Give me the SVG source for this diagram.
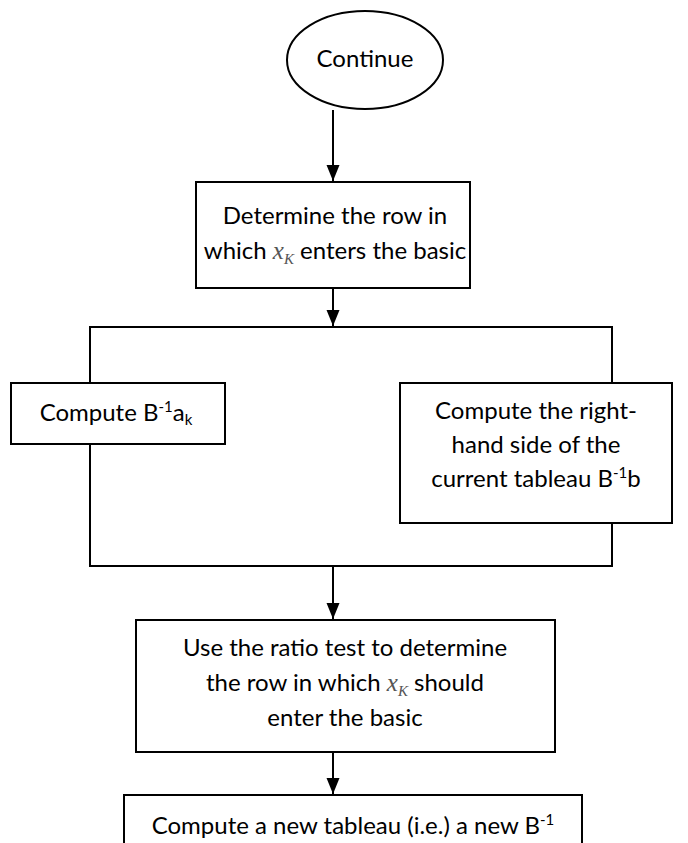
<svg xmlns="http://www.w3.org/2000/svg" width="688" height="843" viewBox="0 0 688 843">
<style>
.s{fill:#fff;stroke:#000;stroke-width:2}
.ln{fill:none;stroke:#000;stroke-width:2}
.t{font-family:Lato,"Liberation Sans",sans-serif;font-size:24px;fill:#000;text-anchor:middle}
.m{font-family:"Liberation Serif",serif;font-style:italic;fill:#555}
</style>
<defs>
<marker id="ah2" markerWidth="16" markerHeight="16" refX="16" refY="8" orient="auto" markerUnits="userSpaceOnUse" viewBox="0 0 16 16">
<path d="M0,1.5 L16,8 L0,14.5 z" fill="#000"/>
</marker>
</defs>
<g id="connectors">
<line class="ln" x1="333" y1="110" x2="333" y2="181" marker-end="url(#ah2)"/>
<line class="ln" x1="333" y1="288" x2="333" y2="326" marker-end="url(#ah2)"/>
<polyline class="ln" points="90,566 90,327 612,327 612,566"/>
<line class="ln" x1="89" y1="566" x2="613" y2="566"/>
<line class="ln" x1="333" y1="566" x2="333" y2="619" marker-end="url(#ah2)"/>
<line class="ln" x1="333" y1="752" x2="333" y2="794" marker-end="url(#ah2)"/>
</g>
<g id="n_continue">
<ellipse class="s" cx="365" cy="60" rx="78" ry="49"/>
<text class="t" x="365" y="67">Continue</text>
</g>
<g id="n_determine">
<rect class="s" x="196" y="182" width="274" height="106"/>
<text class="t" x="335" y="224">Determine the row in</text>
<text class="t" x="335" y="259">which <tspan class="m" font-size="25">x</tspan><tspan class="m" font-size="15" dy="5">K</tspan><tspan dy="-5"> enters the basic</tspan></text>
</g>
<g id="n_compute_ak">
<rect class="s" x="11" y="383" width="214" height="61"/>
<text class="t" x="116" y="421">Compute B<tspan font-size="15" dy="-9">-1</tspan><tspan dy="9">a</tspan><tspan font-size="15" dy="4">k</tspan></text>
</g>
<g id="n_compute_rhs">
<rect class="s" x="400" y="383" width="272" height="140"/>
<text class="t" x="536" y="419">Compute the right-</text>
<text class="t" x="536" y="453">hand side of the</text>
<text class="t" x="536" y="487">current tableau B<tspan font-size="15" dy="-9">-1</tspan><tspan dy="9">b</tspan></text>
</g>
<g id="n_ratio">
<rect class="s" x="136" y="620" width="419" height="132"/>
<text class="t" x="345" y="656">Use the ratio test to determine</text>
<text class="t" x="345" y="691">the row in which <tspan class="m" font-size="25">x</tspan><tspan class="m" font-size="15" dy="5">K</tspan><tspan dy="-5">  should</tspan></text>
<text class="t" x="345" y="726">enter the basic</text>
</g>
<g id="n_new_tableau">
<rect class="s" x="124" y="795" width="458" height="60"/>
<text class="t" x="353" y="834">Compute a new tableau (i.e.) a new B<tspan font-size="15" dy="-9">-1</tspan></text>
</g>
</svg>
